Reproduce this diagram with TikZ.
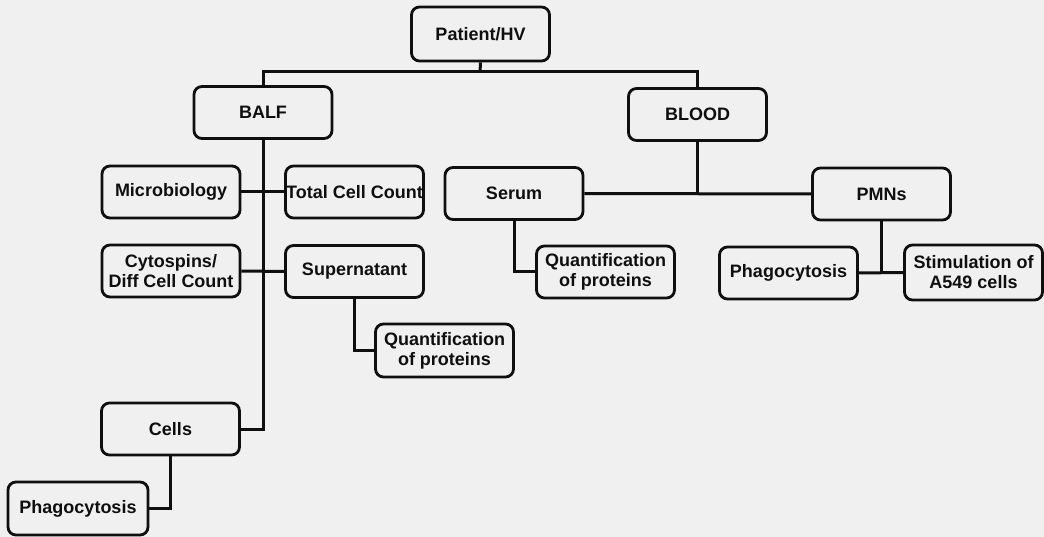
\documentclass[tikz,border=0pt]{standalone}
\usepackage{fontspec}
\setmainfont{Liberation Sans}
\definecolor{bgcol}{RGB}{240,240,240}
\definecolor{ink}{RGB}{15,15,15}
\begin{document}
\begin{tikzpicture}[x=1pt,y=-1pt,
  box/.style={draw=ink, line width=2.8pt, rounded corners=8pt, fill=bgcol,
    minimum width=138pt, minimum height=52pt, inner sep=0pt, align=center,
    font=\fontsize{18}{20}\selectfont\bfseries, text=ink},
  link/.style={draw=ink, line width=3pt}]
\fill[bgcol] (0,0) rectangle (1044,537);
\useasboundingbox (0,0) rectangle (1044,537);
% nodes
\node[box, minimum height=54pt] (patient) at (480.5,34) {Patient/HV};
\node[box] (balf) at (263,112.5) {BALF};
\node[box] (blood) at (697.5,114.5) {BLOOD};
\node[box] (micro) at (171,192) {Microbiology};
\node[box] (tcc) at (354.5,192) {Total Cell Count};
\node[box] (serum) at (514,193.5) {Serum};
\node[box] (pmns) at (881.5,194) {PMNs};
\node[box] (cyto) at (171,271) {Cytospins/\\Diff Cell Count};
\node[box] (super) at (354.5,271.5) {Supernatant};
\node[box, minimum height=53pt] (quant2) at (444.5,350.5) {Quantification\\of proteins};
\node[box] (cells) at (170.5,429) {Cells};
\node[box, minimum width=140pt, minimum height=53pt] (phago2) at (78,508.5) {Phagocytosis};
\node[box] (quant1) at (605.5,272) {Quantification\\of proteins};
\node[box] (phago1) at (788.5,273) {Phagocytosis};
\node[box, minimum height=55pt] (stim) at (973.5,272.5) {Stimulation of\\A549 cells};
% connectors
\coordinate (pj) at (480,72);
\draw[link] (patient.south) -- (pj);
\draw[link] (balf.north) |- (pj) -| (blood.north);
\draw[link] (balf.south) -- (balf.south |- cells.east) -- (cells.east);
\draw[link] (micro.east) -- (tcc.west);
\draw[link] (cyto.east) -- (super.west);
\draw[link] (super.south) |- (quant2.west);
\draw[link] (cells.south) |- (phago2.east);
\draw[link] (blood.south) -- (blood.south |- serum.east);
\draw[link] (serum.east) -- (pmns.west);
\draw[link] (serum.south) |- (quant1.west);
\draw[link] (pmns.south) -- (pmns.south |- phago1.east);
\draw[link] (phago1.east) -- (stim.west);
\end{tikzpicture}
\end{document}
